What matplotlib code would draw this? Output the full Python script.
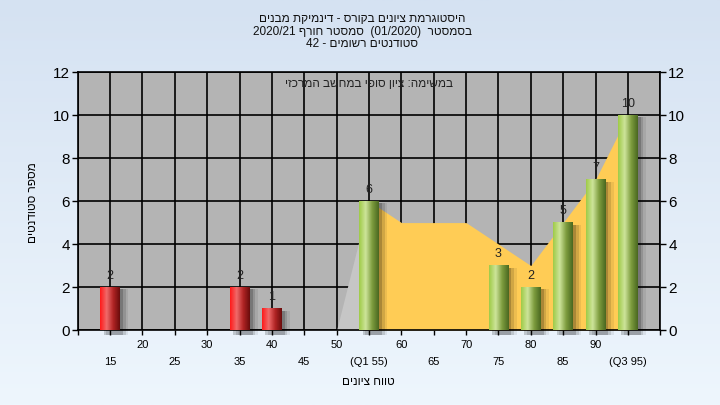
import re
import numpy as np
import matplotlib
matplotlib.use("Agg")
import matplotlib.pyplot as plt
from matplotlib.colors import LinearSegmentedColormap

plt.rcParams['font.family'] = ['Liberation Sans', 'DejaVu Sans']

# data
grades = [15, 35, 40, 55, 75, 80, 85, 90, 95]
counts = [2, 2, 1, 6, 3, 2, 5, 7, 10]
pass_grade = 55
dist_x = [50, 55, 60, 65, 70, 75, 80, 85, 90, 95]
dist_y = [0, 6, 5, 5, 5, 4, 3, 5, 7, 10]
row1_ticks = [20, 30, 40, 50, 60, 70, 80, 90]
row2_ticks = [15, 25, 35, 45, 55, 65, 75, 85, 95]
row2_labels = ['15', '25', '35', '45', '(Q1 55)', '65', '75', '85', '(Q3 95)']

title_lines = ["היסטוגרמת ציונים בקורס - דינמיקת מבנים",
               "בסמסטר  (01/2020)  סמסטר חורף 2020/21",
               "סטודנטים רשומים - 42"]
inner_text = "במשימה: ציון סופי במחשב המרכזי"
x_label = "טווח ציונים"
y_label = "מספר סטודנטים"

MIRROR = str.maketrans('()', ')(')


def vis(s):
    # matplotlib has no bidi: lay out an RTL line by hand, numbers stay LTR
    tokens = re.findall(r'\d[\d/.]*\d|\d|[^\d]+', s)
    out = []
    for tok in reversed(tokens):
        if tok[0].isdigit():
            out.append(tok)
        else:
            out.append(tok[::-1].translate(MIRROR))
    return ''.join(out)


fig = plt.figure(figsize=(7.2, 4.05), dpi=100)

# light blue gradient background
bg = fig.add_axes([0, 0, 1, 1], zorder=-10)
bg_cmap = LinearSegmentedColormap.from_list('bg', ['#eef6fd', '#d5e2f2'])
bg.imshow(np.linspace(0, 1, 256).reshape(-1, 1)[::-1], cmap=bg_cmap,
          aspect='auto', extent=[0, 1, 0, 1])
bg.axis('off')

ax = fig.add_axes([0.108, 0.185, 0.809, 0.637])
ax.set_facecolor('#b4b4b4')
ax.set_axisbelow(True)

# distribution area
dx = np.array(dist_x)
dy = np.array(dist_y)
ax.fill_between(dx[:2], dy[:2], color='#c6c6c6', lw=0, zorder=1)
ax.fill_between(dx[1:], dy[1:], color='#ffcc55', lw=0, zorder=1)

red_cmap = LinearSegmentedColormap.from_list('r', ['#ff1a1a', '#f06a6a', '#b02424', '#6a0c0c'])
green_cmap = LinearSegmentedColormap.from_list('g', ['#9fcb48', '#cde49a', '#7d9c3e', '#4a6820'])
grad = np.linspace(0, 1, 64).reshape(1, -1)

colors = ['r' if g < pass_grade else 'g' for g in grades]
bars = ax.bar(grades, counts, width=3, color='none', zorder=3)
for rect, c, n in zip(bars, colors, counts):
    x0 = rect.get_x()
    w = rect.get_width()
    h = rect.get_height()
    # soft shadow
    for off, a in [(0.5, 0.18), (0.9, 0.12), (1.3, 0.07)]:
        ax.bar(x0 + w / 2 + off, h + 0.15, width=w, bottom=-0.25, color='black',
               alpha=a, lw=0, zorder=2.5, clip_on=False)
    ax.imshow(grad, cmap=red_cmap if c == 'r' else green_cmap, aspect='auto',
              extent=[x0, x0 + w, 0, h], zorder=3)
    ax.text(x0 + w / 2, h + 0.25, str(n), ha='center', va='bottom',
            fontsize=9, color='#222222')

ax.set_xlim(10, 100)
ax.set_ylim(0, 12)

ax.set_xticks(np.arange(10, 101, 10))
ax.set_xticklabels([''] + [str(t) for t in row1_ticks] + [''])
ax.set_xticks(row2_ticks, minor=True)
ax.set_xticklabels(row2_labels, minor=True)
ax.tick_params(axis='x', which='both', direction='out', length=3.6, width=1,
               labelsize=8, colors='black')
ax.tick_params(axis='x', which='major', pad=3.4)
ax.tick_params(axis='x', which='minor', pad=15.5)

ax.set_yticks(np.arange(0, 13, 2))
ax.tick_params(axis='y', direction='out', length=4.3, width=1, labelsize=11,
               right=True, labelright=True, pad=1.5)

ax.grid(which='both', color='black', linewidth=1.2)
for s in ax.spines.values():
    s.set_color('black')
    s.set_linewidth(1.2)

ax.text(0.5, 0.955, vis(inner_text), transform=ax.transAxes, ha='center',
        va='center', fontsize=8.5, color='#222222')

for i, line in enumerate(title_lines):
    fig.text(0.503, 0.953 - i * 0.031, vis(line), ha='center', va='center',
             fontsize=8.5, color='#111111')

fig.text(0.511, 0.058, vis(x_label), ha='center', va='center', fontsize=8.5)
fig.text(0.046, 0.5, vis(y_label), ha='center', va='center', fontsize=8.5,
         rotation=90)

plt.savefig('out.png', dpi=100)
